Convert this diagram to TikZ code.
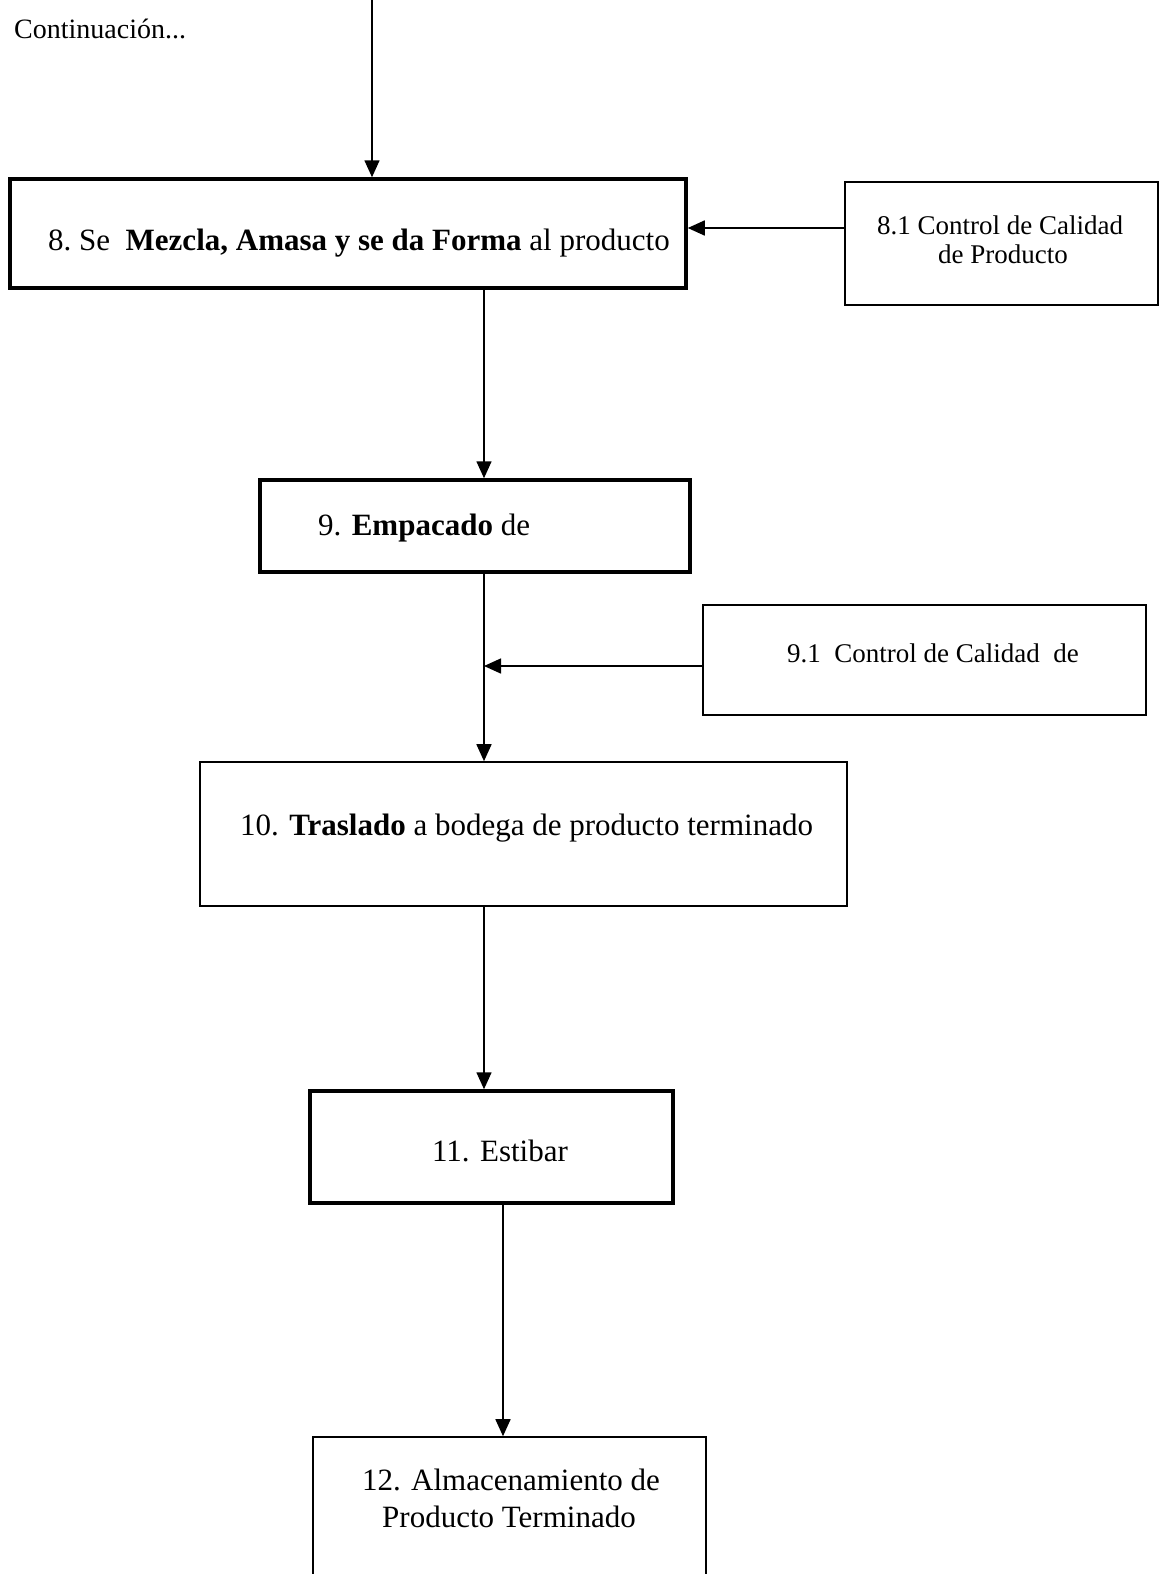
\documentclass[tikz,border=0pt]{standalone}
\usepackage{fontspec}
\setmainfont{Liberation Serif}
\usetikzlibrary{arrows.meta,calc}
\begin{document}
\begin{tikzpicture}[x=1pt,y=-1pt,
  thickbox/.style={draw,rectangle,line width=3.5pt,inner sep=0pt},
  thinbox/.style={draw,rectangle,line width=1.6pt,inner sep=0pt},
  arr/.style={line width=1.6pt,-{Triangle[length=17pt,width=15pt]}},
  lbl/.style={inner sep=0pt,font=\fontsize{31}{37}\selectfont},
  slbl/.style={inner sep=0pt,font=\fontsize{27}{32}\selectfont},
  tlbl/.style={inner sep=0pt,font=\fontsize{28}{33}\selectfont}]
\useasboundingbox (0,0) rectangle (1161,1574);

% boxes
\node[thickbox,minimum width=676,minimum height=109] (b8) at (348,233.5) {};
\node[thinbox,minimum width=313,minimum height=123] (b81) at (1001.5,243.5) {};
\node[thickbox,minimum width=430,minimum height=92] (b9) at (475,526) {};
\node[thinbox,minimum width=443,minimum height=110] (b91) at (924.5,660) {};
\node[thinbox,minimum width=647,minimum height=144] (b10) at (523.5,834) {};
\node[thickbox,minimum width=363,minimum height=112] (b11) at (491.5,1147) {};
\node[thinbox,minimum width=393,minimum height=203] (b12) at (509.5,1538.5) {};

% texts
\node[tlbl,anchor=base west] (cont) at (14,38) {Continuación...};
\node[lbl,anchor=base west] (t8) at (48,250) {8.~Se~~\textbf{Mezcla, Amasa y se da Forma} al producto};
\node[slbl,anchor=base] (t81a) at (1000,234) {8.1 Control de Calidad};
\node[slbl,anchor=base] (t81b) at (1003,263) {de Producto};
\node[lbl,anchor=base west] (t9) at (318,535) {9. \textbf{Empacado} de};
\node[slbl,anchor=base west] (t91) at (787,662) {9.1~~Control de Calidad~~de};
\node[lbl,anchor=base west] (t10) at (240,835) {10. \textbf{Traslado} a bodega de producto terminado};
\node[lbl,anchor=base] (t11) at (500,1161) {11. Estibar};
\node[lbl,anchor=base] (t12a) at (511,1490) {12. Almacenamiento de};
\node[lbl,anchor=base] (t12b) at (509,1527) {Producto Terminado};

% connector helper coordinates
\coordinate (top) at (372,0);
\coordinate (xa) at (484,0);
\coordinate (xb) at (503,0);
\coordinate (ya) at (0,228);
\coordinate (j) at (484,666);

% connectors
\draw[arr] (top) -- (b8.north -| top);
\draw[arr] (b81.west |- ya) -- (b8.east |- ya);
\draw[arr] (b8.south -| xa) -- (b9.north -| xa);
\draw[arr] (b9.south -| xa) -- (b10.north -| xa);
\draw[arr] (b91.west |- j) -- (j);
\draw[arr] (b10.south -| xa) -- (b11.north -| xa);
\draw[arr] (b11.south -| xb) -- (b12.north -| xb);
\end{tikzpicture}
\end{document}
